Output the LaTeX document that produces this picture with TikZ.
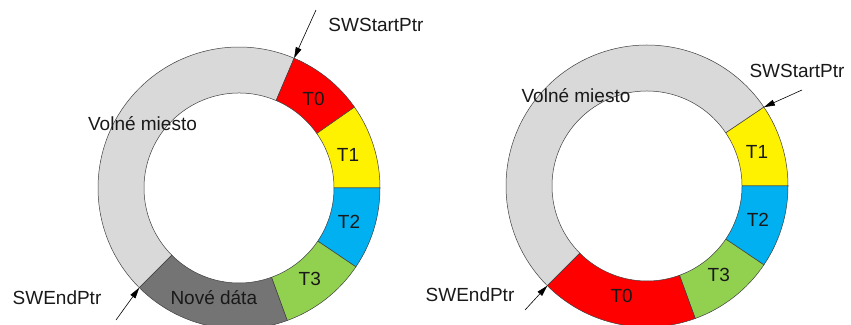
\documentclass[tikz,border=0pt]{standalone}
\usepackage{fontspec}
\setmainfont{Liberation Sans}
\usetikzlibrary{arrows.meta}
\definecolor{freegray}{HTML}{D9D9D9}
\definecolor{newgray}{HTML}{747474}
\definecolor{tblue}{HTML}{00B0F0}
\definecolor{tgreen}{HTML}{92D050}
\tikzset{
  seg/.style={draw=black!75, line width=0.5pt},
  lbl/.style={font=\fontsize{19}{22}\selectfont, text=black!90, inner sep=0pt},
  ptr/.style={-{Triangle[length=11pt,width=6pt]}, line width=0.6pt}
}
% ring piece: centre, from angle, to angle, fill
\newcommand\ringseg[4]{%
  \filldraw[seg, fill=#4] ([shift={(#2:95pt)}]#1) arc (#2:#3:95pt)
    -- ([shift={(#3:141pt)}]#1) arc (#3:#2:141pt) -- cycle;}
\begin{document}
\begin{tikzpicture}[x=1pt,y=1pt]
  \useasboundingbox (0,0) rectangle (851,324);
  \coordinate (L) at (239,136);
  \coordinate (R) at (647,138);

  \ringseg{L}{67}{225}{freegray}
  \ringseg{L}{35}{67}{red}
  \ringseg{L}{0}{35}{yellow}
  \ringseg{L}{-34}{0}{tblue}
  \ringseg{L}{-70}{-34}{tgreen}
  \ringseg{L}{-135}{-70}{newgray}
  \node[lbl] (lt0) at ([shift={(50:116pt)}]L) {T0};
  \node[lbl] (lt1) at ([shift={(17:114pt)}]L) {T1};
  \node[lbl] (lt2) at ([shift={(-17:115pt)}]L) {T2};
  \node[lbl] (lt3) at ([shift={(-52:115pt)}]L) {T3};
  \node[lbl] (lnew) at ([shift={(257:112pt)}]L) {Nové dáta};
  \node[lbl] (lfree) at (142.5,200) {Volné miesto};
  \node[lbl] (lstart) at (376,299) {SWStartPtr};
  \node[lbl] (lend) at (57,26) {SWEndPtr};
  \coordinate (lstail) at (316,314);
  \coordinate (lstip) at ([shift={(67:141pt)}]L);
  \coordinate (letail) at (116,4);
  \coordinate (letip) at ([shift={(225:141pt)}]L);
  \draw[ptr] (lstail) -- (lstip);
  \draw[ptr] (letail) -- (letip);

  \ringseg{R}{34}{225}{freegray}
  \ringseg{R}{0}{34}{yellow}
  \ringseg{R}{-34}{0}{tblue}
  \ringseg{R}{-70}{-34}{tgreen}
  \ringseg{R}{-135}{-70}{red}
  \node[lbl] (rt1) at ([shift={(17:115pt)}]R) {T1};
  \node[lbl] (rt2) at ([shift={(-17:116pt)}]R) {T2};
  \node[lbl] (rt3) at ([shift={(-51:114pt)}]R) {T3};
  \node[lbl] (rt0) at ([shift={(257:113pt)}]R) {T0};
  \node[lbl] (rfree) at (576,228) {Volné miesto};
  \node[lbl] (rstart) at (797,253) {SWStartPtr};
  \node[lbl] (rend) at (470,29) {SWEndPtr};
  \coordinate (rstail) at (802,234);
  \coordinate (rstip) at ([shift={(34:141pt)}]R);
  \coordinate (retail) at (525,14);
  \coordinate (retip) at ([shift={(225:141pt)}]R);
  \draw[ptr] (rstail) -- (rstip);
  \draw[ptr] (retail) -- (retip);
\end{tikzpicture}
\end{document}
